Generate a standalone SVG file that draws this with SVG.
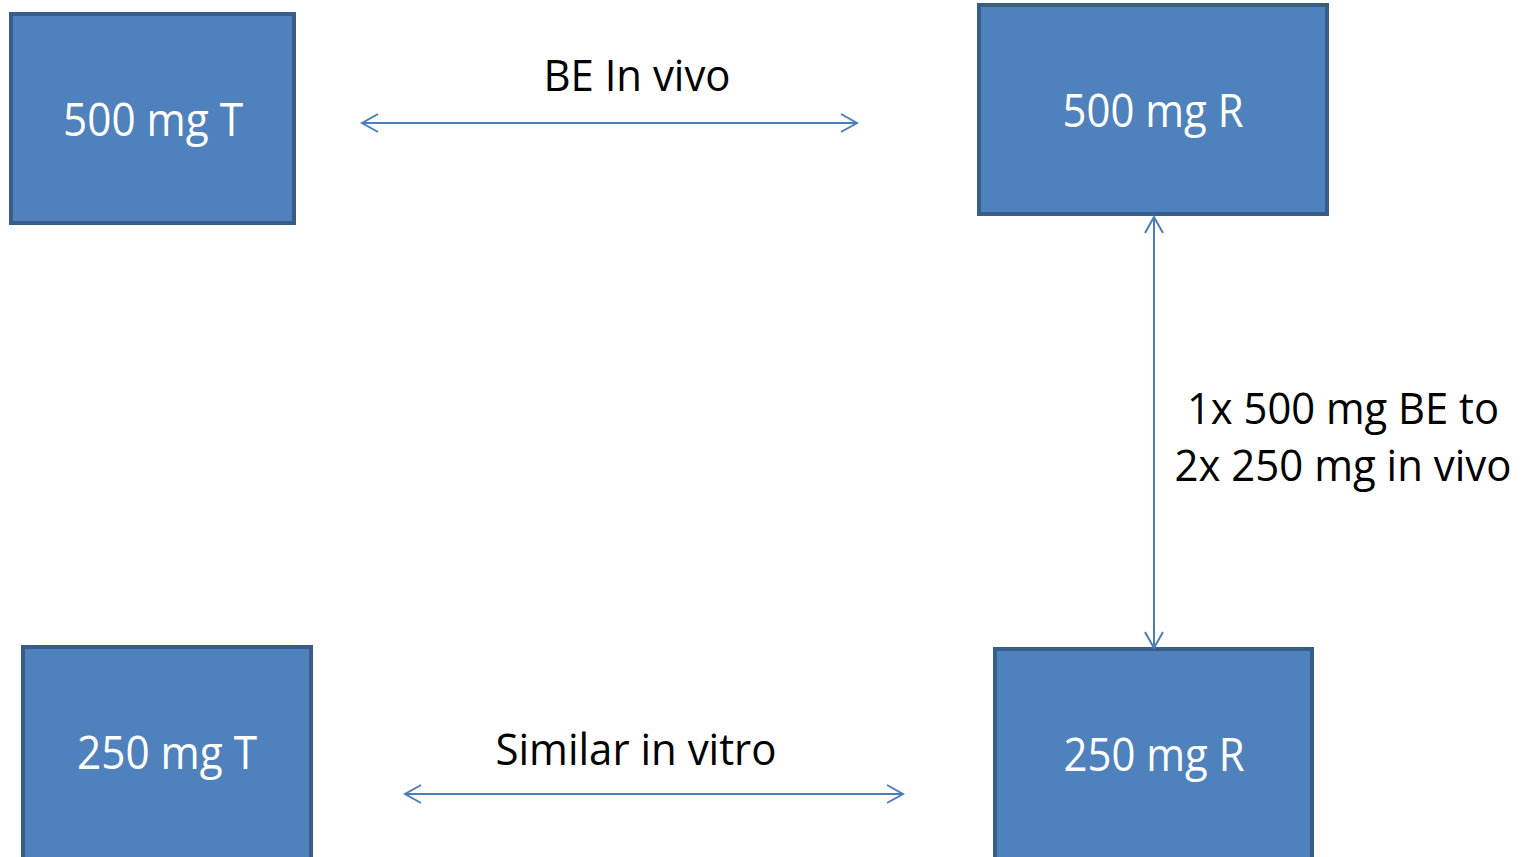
<svg xmlns="http://www.w3.org/2000/svg" width="1526" height="857" viewBox="0 0 1526 857">
<defs>
<style>
.box{fill:#4F81BD;stroke:#385D8A;stroke-width:4}
.lbl{font-family:"Open Sans","Noto Sans",sans-serif;font-size:45px;fill:#FFFFFF;text-anchor:middle}
.cap{font-family:"Open Sans","Noto Sans",sans-serif;font-size:43px;fill:#000000;text-anchor:middle}
.con{stroke:#4A7EBB;stroke-width:2;fill:none}
</style>
<marker id="ah" viewBox="0 0 20 20" refX="18" refY="10" markerWidth="20" markerHeight="20" markerUnits="userSpaceOnUse" orient="auto-start-reverse">
<path d="M2,1 L18,10 L2,19" fill="none" stroke="#4A7EBB" stroke-width="2"/>
</marker>
</defs>
<rect width="1526" height="857" fill="#FFFFFF"/>
<g id="n500T">
<rect class="box" x="11" y="14" width="283" height="209"/>
<text class="lbl" x="153" y="136" textLength="180" lengthAdjust="spacingAndGlyphs">500 mg T</text>
</g>
<g id="n500R">
<rect class="box" x="979" y="5" width="348" height="209"/>
<text class="lbl" x="1153" y="127" textLength="181" lengthAdjust="spacingAndGlyphs">500 mg R</text>
</g>
<g id="n250T">
<rect class="box" x="23" y="647" width="288" height="222"/>
<text class="lbl" x="167" y="769" textLength="180" lengthAdjust="spacingAndGlyphs">250 mg T</text>
</g>
<g id="n250R">
<rect class="box" x="995" y="649" width="317" height="222"/>
<text class="lbl" x="1154" y="771" textLength="181" lengthAdjust="spacingAndGlyphs">250 mg R</text>
</g>
<g id="connectors">
<line class="con" x1="362" y1="123" x2="857" y2="123" marker-start="url(#ah)" marker-end="url(#ah)"/>
<line class="con" x1="1154" y1="217" x2="1154" y2="648" marker-start="url(#ah)" marker-end="url(#ah)"/>
<line class="con" x1="405" y1="794" x2="903" y2="794" marker-start="url(#ah)" marker-end="url(#ah)"/>
</g>
<g id="labels">
<text class="cap" x="637" y="91" textLength="187" lengthAdjust="spacingAndGlyphs">BE In vivo</text>
<text class="cap" x="636" y="765" textLength="281" lengthAdjust="spacingAndGlyphs">Similar in vitro</text>
<text class="cap" x="1343" y="424" textLength="312" lengthAdjust="spacingAndGlyphs">1x 500 mg BE to</text>
<text class="cap" x="1343" y="481" textLength="337" lengthAdjust="spacingAndGlyphs">2x 250 mg in vivo</text>
</g>
</svg>
